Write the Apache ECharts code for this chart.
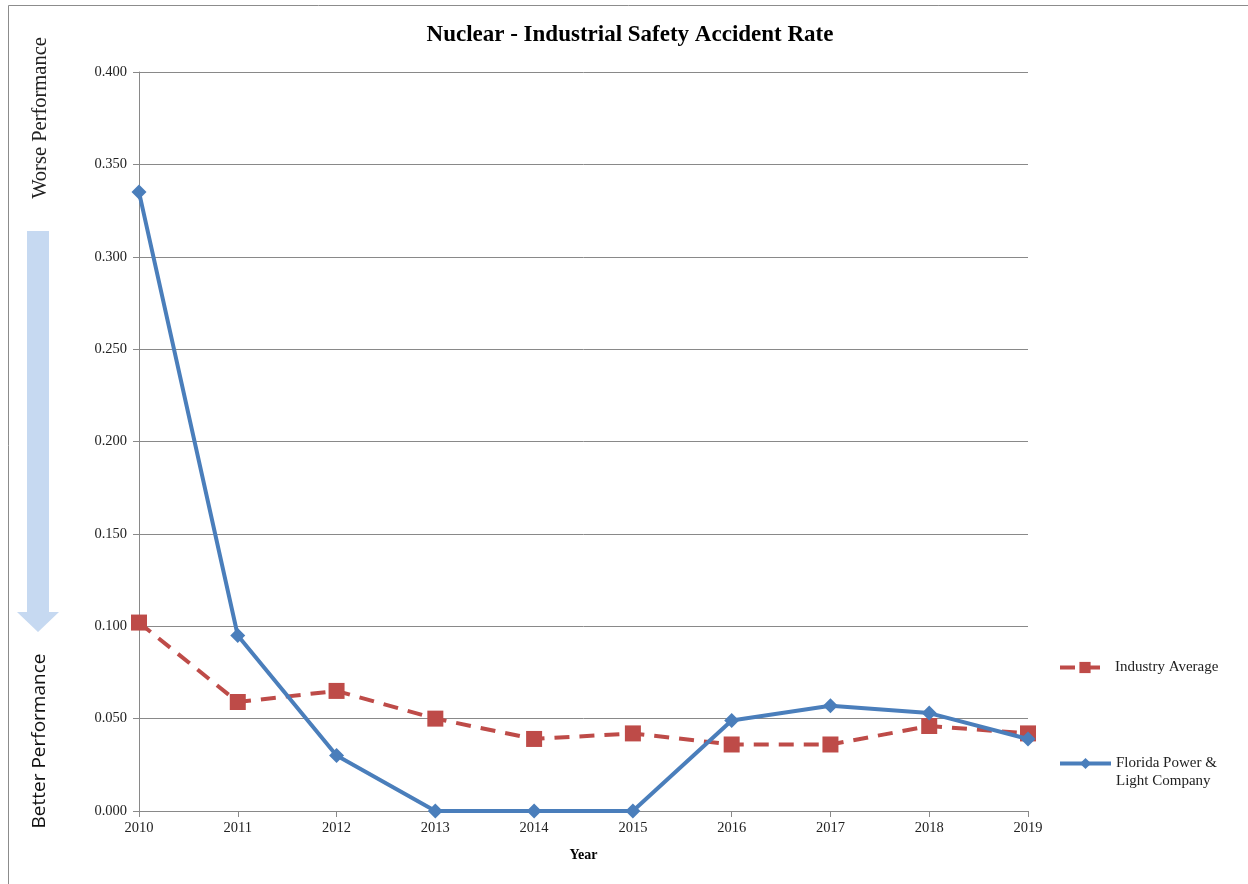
<!DOCTYPE html>
<html>
<head>
<meta charset="utf-8">
<script src="https://cdn.jsdelivr.net/npm/echarts@6/dist/echarts.min.js"></script>
<style>
  html, body { margin: 0; padding: 0; background: #fff; }
  #chart { width: 1248px; height: 884px; }
</style>
</head>
<body>
<div id="chart"></div>
<script>
// Accident rate per year, nuclear industrial safety
const years = ['2010', '2011', '2012', '2013', '2014', '2015', '2016', '2017', '2018', '2019'];
const industryAverage = [0.102, 0.059, 0.065, 0.050, 0.039, 0.042, 0.036, 0.036, 0.046, 0.042];
const fplCompany = [0.335, 0.095, 0.030, 0.000, 0.000, 0.000, 0.049, 0.057, 0.053, 0.039];
const yTicks = { min: 0, max: 0.4, step: 0.05 };

const serif = '"Liberation Serif", "DejaVu Serif", serif';
const red = '#be4b48';
const blue = '#4a7ebb';
const gridGray = '#898989';
const fplName = 'Florida Power & Light Company';

const chart = echarts.init(document.getElementById('chart'), null, { renderer: 'canvas' });

chart.setOption({
  backgroundColor: '#ffffff',
  animation: false,
  title: {
    text: 'Nuclear - Industrial Safety Accident Rate',
    left: 625,
    textAlign: 'center',
    top: 19,
    textStyle: { fontFamily: serif, fontSize: 23, fontWeight: 'bold', color: '#000' }
  },
  grid: { left: 139, right: 220, top: 72, bottom: 73, containLabel: false },
  legend: [
    {
      data: ['Industry Average'],
      left: 1058,
      top: 660,
      padding: 0,
      itemWidth: 50,
      itemHeight: 14,
      lineStyle: { width: 4 },
      textStyle: { fontFamily: serif, fontSize: 15, color: '#222' }
    },
    {
      data: [fplName],
      left: 1058,
      top: 756,
      padding: 0,
      itemWidth: 51,
      itemHeight: 14,
      lineStyle: { width: 4 },
      formatter: () => 'Florida Power &',
      textStyle: { fontFamily: serif, fontSize: 15, color: '#222' }
    }
  ],
  xAxis: {
    type: 'category',
    data: years,
    boundaryGap: false,
    name: 'Year',
    nameLocation: 'middle',
    nameGap: 37,
    nameTextStyle: { fontFamily: serif, fontSize: 14, fontWeight: 'bold', color: '#000' },
    axisLine: { lineStyle: { color: gridGray, width: 1 } },
    axisTick: { show: true, alignWithLabel: true, length: 6, lineStyle: { color: gridGray } },
    axisLabel: { fontFamily: serif, fontSize: 14.5, color: '#222', margin: 10 }
  },
  yAxis: {
    type: 'value',
    min: yTicks.min,
    max: yTicks.max,
    interval: yTicks.step,
    axisLine: { show: true, lineStyle: { color: gridGray, width: 1 } },
    axisTick: { show: true, length: 6, lineStyle: { color: gridGray } },
    axisLabel: {
      fontFamily: serif, fontSize: 14.5, color: '#222', margin: 12,
      formatter: v => v.toFixed(3)
    },
    splitLine: { show: true, lineStyle: { color: gridGray, width: 1 } }
  },
  series: [
    {
      name: 'Industry Average',
      type: 'line',
      data: industryAverage,
      symbol: 'rect',
      symbolSize: 16,
      itemStyle: { color: red },
      lineStyle: { color: red, width: 4, type: [15, 10] },
      z: 2
    },
    {
      name: fplName,
      type: 'line',
      data: fplCompany,
      symbol: 'diamond',
      symbolSize: 15,
      itemStyle: { color: blue },
      lineStyle: { color: blue, width: 4 },
      z: 3
    }
  ],
  graphic: [
    {
      type: 'rect',
      shape: { x: 8.5, y: 5.5, width: 1400, height: 1000 },
      style: { fill: 'none', stroke: '#8c8c8c', lineWidth: 1 },
      silent: true
    },
    {
      type: 'polygon',
      shape: { points: [[27, 231], [49, 231], [49, 612], [59, 612], [38, 632], [17, 612], [27, 612]] },
      style: { fill: '#c6d9f1' },
      silent: true
    },
    {
      type: 'text',
      x: 41,
      y: 118,
      rotation: Math.PI / 2,
      style: {
        text: 'Worse Performance',
        fontFamily: serif,
        fontSize: 20.5,
        fill: '#222',
        align: 'center',
        verticalAlign: 'middle'
      },
      silent: true
    },
    {
      type: 'text',
      x: 40,
      y: 741,
      rotation: Math.PI / 2,
      style: {
        text: 'Better Performance',
        fontFamily: '"Open Sans", "Liberation Sans", sans-serif',
        fontSize: 19,
        fill: '#111',
        align: 'center',
        verticalAlign: 'middle'
      },
      silent: true
    },
    {
      type: 'text',
      x: 1116,
      y: 781,
      style: {
        text: 'Light Company',
        fontFamily: serif,
        fontSize: 15,
        fill: '#222',
        align: 'left',
        verticalAlign: 'middle'
      },
      silent: true
    }
  ]
});
</script>
</body>
</html>
